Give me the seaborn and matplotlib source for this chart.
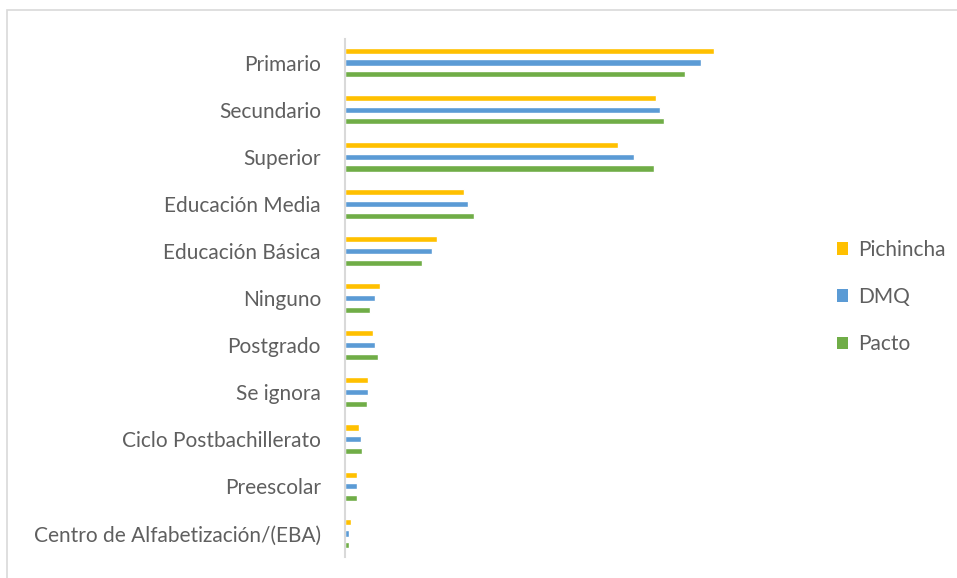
import matplotlib
matplotlib.use("Agg")
import matplotlib.pyplot as plt
from matplotlib.patches import Rectangle, Patch
import pandas as pd
import seaborn as sns

# education levels and share per area
niveles = ["Primario", "Secundario", "Superior", "Educación Media", "Educación Básica",
           "Ninguno", "Postgrado", "Se ignora", "Ciclo Postbachillerato", "Preescolar",
           "Centro de Alfabetización/(EBA)"]
areas = ["Pichincha", "DMQ", "Pacto"]
pichincha = [30.0, 25.3, 22.2, 9.7, 7.5, 2.9, 2.3, 1.9, 1.2, 1.0, 0.5]
dmq = [28.9, 25.6, 23.5, 10.0, 7.1, 2.5, 2.5, 1.9, 1.3, 1.0, 0.4]
pacto = [27.6, 25.9, 25.1, 10.5, 6.3, 2.1, 2.7, 1.8, 1.4, 1.0, 0.4]
colores = ["#FFC000", "#5B9BD5", "#70AD47"]

df = pd.DataFrame({
    "nivel": niveles * 3,
    "area": [a for a in areas for _ in niveles],
    "valor": pichincha + dmq + pacto,
})

sns.set_style("white")
plt.rcParams["font.family"] = ["Lato", "DejaVu Sans"]
text_color = "#5F5F5F"
fsize = 15

fig = plt.figure(figsize=(9.57, 5.78), dpi=100)
ax = fig.add_axes([0.36, 0.0363, 0.438, 0.8962])

sns.barplot(data=df, y="nivel", x="valor", hue="area", order=niveles,
            hue_order=areas, palette=colores, orient="h", width=0.75, gap=0.48,
            saturation=1, legend=False, ax=ax)

ax.set_xlim(0, 34)
ax.set_ylim(len(niveles) - 0.5, -0.5)
ax.set_xlabel("")
ax.set_ylabel("")
ax.set_xticks([])
ax.tick_params(axis="y", length=0, pad=17, labelsize=fsize, labelcolor=text_color)
for s in ["top", "right", "bottom"]:
    ax.spines[s].set_visible(False)
ax.spines["left"].set_color("#D9D9D9")
ax.spines["left"].set_linewidth(1.5)

handles = [Patch(facecolor=c, edgecolor="none") for c in colores]
leg = fig.legend(handles, areas, loc="center left", bbox_to_anchor=(0.8746, 0.486),
                 frameon=False, fontsize=fsize, labelspacing=1.3, handlelength=0.55,
                 handleheight=0.55, handletextpad=0.45, borderpad=0, borderaxespad=0)
for t in leg.get_texts():
    t.set_color(text_color)

# light frame around the chart area
fig.patches.append(Rectangle((7 / 957, -0.01), 1.0, 1 - 10 / 578 + 0.01,
                             transform=fig.transFigure, fill=False,
                             edgecolor="#D9D9D9", linewidth=1.2, clip_on=False))

fig.savefig("out.png", dpi=100)
